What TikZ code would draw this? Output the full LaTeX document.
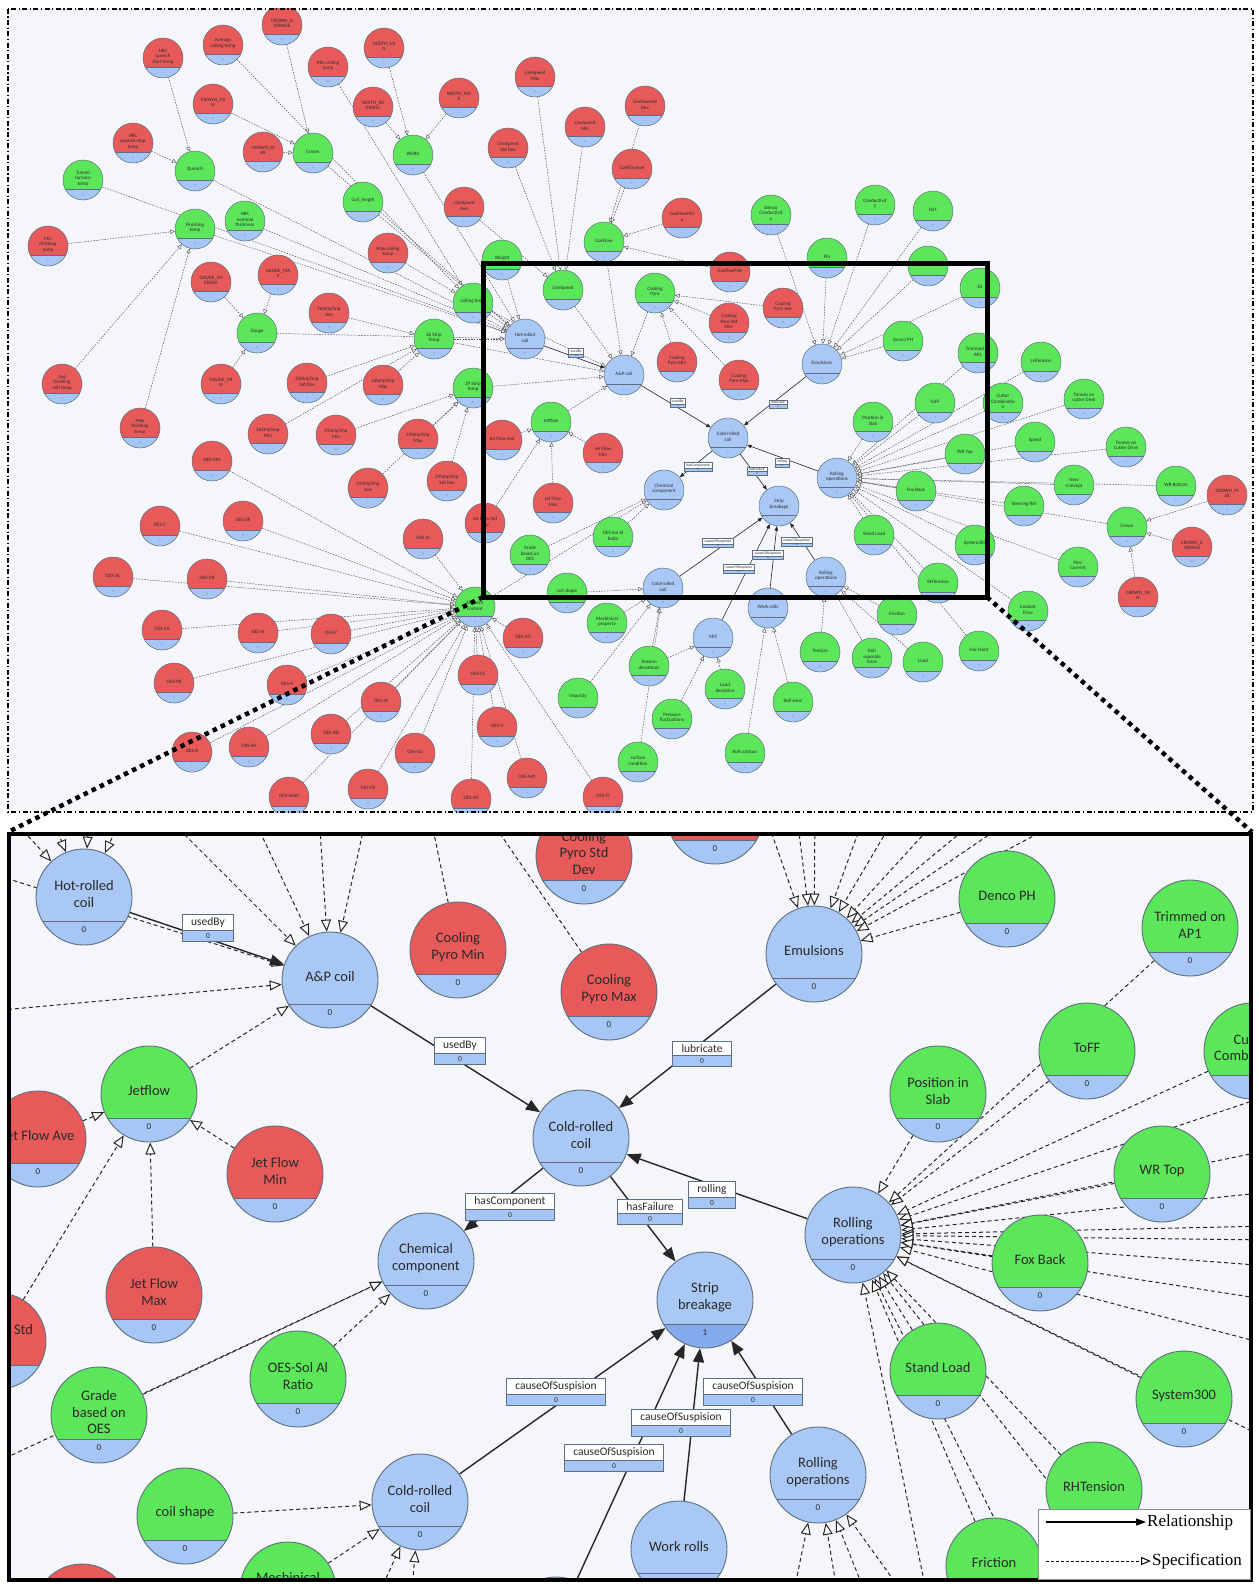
\documentclass[tikz,border=0pt]{standalone}
\usepackage{fontspec}
\setmainfont{Carlito}
\newfontfamily\legfont{Liberation Serif}
\usetikzlibrary{arrows.meta,shapes.multipart}
\pgfdeclarelayer{back}\pgfdeclarelayer{edges}\pgfdeclarelayer{front}
\pgfsetlayers{back,edges,main,front}
\definecolor{rc}{HTML}{E85A5A}
\definecolor{gc}{HTML}{5CE65A}
\definecolor{bc}{HTML}{A9C8F6}
\definecolor{bandc}{HTML}{A6C6F5}
\definecolor{bandd}{HTML}{86AAEE}
\definecolor{bordc}{HTML}{5E6E80}
\definecolor{edgec}{HTML}{505050}
\definecolor{bgc}{HTML}{F4F6FA}
\definecolor{txtc}{HTML}{2A2A2A}
\tikzset{
 sn/.style={circle,draw=bordc,line width=0.5pt,minimum size=40pt,inner sep=0pt,
  path picture={\fill[bandc] ([xshift=-22pt,yshift=-9.5pt]path picture bounding box.center) rectangle ([xshift=22pt,yshift=-22pt]path picture bounding box.center);
  \draw[bordc,line width=0.35pt] ([xshift=-22pt,yshift=-9.5pt]path picture bounding box.center) -- ([xshift=22pt,yshift=-9.5pt]path picture bounding box.center);
  \node[font=\fontsize{2.6}{3}\selectfont,text=bordc,inner sep=0pt] at ([yshift=-14.5pt]path picture bounding box.center) {0};}},
 snt/.style={font=\fontsize{5}{5.6}\selectfont,text=txtc,align=center,inner sep=0pt},
 bn/.style={circle,draw=bordc,line width=0.9pt,minimum size=96pt,inner sep=0pt,
  path picture={\fill[bandc] ([xshift=-50pt,yshift=-24pt]path picture bounding box.center) rectangle ([xshift=50pt,yshift=-50pt]path picture bounding box.center);
  \draw[bordc,line width=0.7pt] ([xshift=-50pt,yshift=-24pt]path picture bounding box.center) -- ([xshift=50pt,yshift=-24pt]path picture bounding box.center);
  \node[font=\fontsize{9}{9}\selectfont,text=txtc,inner sep=0pt] at ([yshift=-33pt]path picture bounding box.center) {0};}},
 bnstrip/.style={circle,draw=bordc,line width=0.9pt,minimum size=96pt,inner sep=0pt,
  path picture={\fill[bandd] ([xshift=-50pt,yshift=-24pt]path picture bounding box.center) rectangle ([xshift=50pt,yshift=-50pt]path picture bounding box.center);
  \draw[bordc,line width=0.7pt] ([xshift=-50pt,yshift=-24pt]path picture bounding box.center) -- ([xshift=50pt,yshift=-24pt]path picture bounding box.center);
  \node[font=\fontsize{9}{9}\selectfont,text=txtc,inner sep=0pt] at ([yshift=-33pt]path picture bounding box.center) {1};}},
 bnt/.style={font=\fontsize{14.5}{16.5}\selectfont,text=txtc,align=center,inner sep=0pt},
 tspec/.style={draw=edgec,line width=0.45pt,dash pattern=on 1.6pt off 1.2pt,-{Triangle[length=4.5pt,width=4.2pt,fill=white]}},
 trel/.style={draw=black!85,line width=0.6pt,-{Triangle[length=4.5pt,width=3.6pt]}},
 bspec/.style={draw=black!85,line width=1pt,dash pattern=on 4pt off 3pt,-{Triangle[length=12pt,width=10pt,fill=white]}},
 brelx/.style={draw=black!85,line width=1.4pt,-{Triangle[length=14pt,width=11pt]}},
 trl/.style={rectangle split,rectangle split parts=2,draw=bordc,line width=0.3pt,rectangle split part fill={white,bandc},font=\fontsize{3.8}{4.2}\selectfont,inner xsep=2pt,inner ysep=0.8pt,text=txtc},
 brl/.style={rectangle split,rectangle split parts=2,draw=bordc,line width=0.8pt,rectangle split part fill={white,bandc},font=\fontsize{11.5}{12.5}\selectfont,inner xsep=9pt,inner ysep=2.6pt,text=txtc},
}
\newcommand\SN[5]{\node[sn,fill=#4] (#1) at (#2,#3) {};\node[snt] (#1t) at ([yshift=1.5pt]#1.center) {#5};}
\newcommand\BN[5]{\node[bn,fill=#4] (#1) at (#2,#3) {};\node[bnt] (#1t) at ([yshift=3pt]#1.center) {#5};}
\newcommand\tz{{\fontsize{2.6}{2.8}\selectfont 0}}
\newcommand\bz{{\fontsize{7.5}{7.5}\selectfont 0}}
\begin{document}
\begin{tikzpicture}[x=1pt,y=-1pt]
\useasboundingbox (0,0) rectangle (1258,1584);
\begin{pgfonlayer}{back}
\fill[white] (0,0) rectangle (1258,1584);
\fill[bgc] (8,9) rectangle (1253,812);
\fill[bgc] (9,834) rectangle (1251,1580);
\end{pgfonlayer}
% ================= TOP PANEL NODES =================
\begin{scope}
\clip (8,9) rectangle (1253,812);
\SN{crownavg}{282}{25}{rc}{CROWN\_A\\VERAGE}
\SN{avgcoil}{223}{45}{rc}{Average\\colling temp}
\SN{hrcqs}{163}{58}{rc}{HRC\\quench\\start temp}
\SN{widthmin}{384}{48}{rc}{WIDTH\_MI\\N}
\SN{mincoil}{328}{67}{rc}{Min colling\\temp}
\SN{crownmin}{213}{104}{rc}{CROWN\_MI\\N}
\SN{widthavg}{373}{107}{rc}{WIDTH\_AV\\ERAGE}
\SN{hrcqst}{133}{143}{rc}{HRC\\quench stop\\temp}
\SN{crownmax}{263}{152}{rc}{CROWN\_M\\AX}
\SN{crown}{313}{153}{gc}{Crown}
\SN{width}{413}{155}{gc}{Width}
\SN{quench}{195}{171}{gc}{Quench}
\SN{tunnel}{83}{180}{gc}{Tunnel\\furnace\\temp}
\SN{coillen}{363}{202}{gc}{Coil\_length}
\SN{fintemp}{195}{229}{gc}{Finishing\\temp}
\SN{hrcnom}{245}{221}{gc}{HRC\\nominal\\thickness}
\SN{minfin}{48}{246}{rc}{Min\\finishing\\temp}
\SN{maxcoil}{388}{253}{rc}{Max colling\\temp}
\SN{widthmax}{459}{98}{rc}{WIDTH\_MA\\X}
\SN{lsmax}{535}{77}{rc}{LineSpeed\\Max}
\SN{lsmin}{585}{127}{rc}{LineSpeed\\Min}
\SN{gfstd}{645}{106}{rc}{GasFlowStd\\Dev}
\SN{lsstd}{508}{148}{rc}{LineSpeed\\Std Dev}
\SN{gfave}{632}{169}{rc}{GasFlowAve}
\SN{lsave}{464}{207}{rc}{LineSpeed\\Ave}
\SN{gfmax}{682}{218}{rc}{GasFlowMa\\x}
\SN{gasflow}{604}{242}{gc}{GasFlow}
\SN{dencocond}{771}{215}{gc}{Denco\\Conductivit\\y}
\SN{pin}{827}{258}{gc}{Pin}
\SN{weight}{502}{260}{gc}{Weight}
\SN{cond}{875}{205}{gc}{Conductivit\\y}
\SN{dirt}{933}{211}{gc}{Dirt}
\SN{chloride}{928}{266}{gc}{Chloride}
\SN{gfmin}{730}{272}{rc}{GasFlowMin}
\SN{cpyro}{655}{293}{gc}{Cooling\\Pyro}
\SN{cpave}{783}{308}{rc}{Cooling\\Pyro Ave}
\SN{cpstd}{729}{323}{rc}{Cooling\\Pyro Std\\Dev}
\SN{cpmin}{677}{362}{rc}{Cooling\\Pyro Min}
\SN{cpmax}{739}{380}{rc}{Cooling\\Pyro Max}
\SN{emul}{822}{364}{bc}{Emulsions}
\SN{dencoph}{903}{341}{gc}{Denco PH}
\SN{es}{980}{288}{gc}{ES}
\SN{trimmed}{978}{353}{gc}{Trimmed on\\AP1}
\SN{colltemp}{473}{303}{gc}{colling temp}
\SN{linespeed}{563}{290}{gc}{LineSpeed}
\SN{hrc}{525}{339}{bc}{Hot-rolled\\coil}
\SN{zsix}{434}{339}{gc}{Z6 Strip\\Temp}
\SN{apcoil}{624}{375}{bc}{A\&P coil}
\SN{znine}{473}{388}{gc}{Z9 Strip\\Temp}
\SN{jetflow}{551}{422}{gc}{Jetflow}
\SN{jfave}{502}{440}{rc}{Jet Flow Ave}
\SN{jfmin}{603}{453}{rc}{Jet Flow\\Min}
\SN{crc}{728}{438}{bc}{Cold-rolled\\coil}
\SN{z9std}{447}{481}{rc}{Z9StripTmp\\Std Dev}
\SN{jfmax}{553}{503}{rc}{Jet Flow\\Max}
\SN{chem}{664}{490}{bc}{Chemical\\component}
\SN{strip}{779}{506}{bc}{Strip\\breakage}
\SN{rollop}{837}{478}{bc}{Rolling\\operations}
\SN{jfstd}{485}{523}{rc}{Jet Flow Std\\Dev}
\SN{oessol}{613}{537}{gc}{OES-Sol Al\\Ratio}
\SN{gaugeavg}{211}{282}{rc}{GAUGE\_AV\\ERAGE}
\SN{gaugemax}{278}{275}{rc}{GAUGE\_MA\\X}
\SN{z6ave}{329}{313}{rc}{Z6StripTmp\\Ave}
\SN{gauge}{257}{333}{gc}{Gauge}
\SN{avgfin}{62}{384}{rc}{Avg\\finishing\\mill temp}
\SN{gaugemin}{221}{384}{rc}{GAUGE\_MI\\N}
\SN{z6std}{307}{383}{rc}{Z6StripTmp\\Std Dev}
\SN{z6max}{383}{385}{rc}{Z6StripTmp\\Max}
\SN{maxfin}{140}{428}{rc}{Max\\finishing\\temp}
\SN{z6min}{268}{434}{rc}{Z6StripTmp\\Min}
\SN{z9min}{336}{435}{rc}{Z9StripTmp\\Min}
\SN{z9max}{418}{439}{rc}{Z9StripTmp\\Max}
\SN{oesmn}{212}{461}{rc}{OES-MN}
\SN{z9ave}{368}{488}{rc}{Z9StripTmp\\Ave}
\SN{oesc}{160}{526}{rc}{OES-C}
\SN{oeszr}{243}{521}{rc}{OES-ZR}
\SN{oessi}{423}{539}{rc}{OES-SI}
\SN{lhtension}{1041}{362}{gc}{LHTension}
\SN{toff}{935}{403}{gc}{ToFF}
\SN{cutter}{1003}{403}{gc}{Cutter\\Combinatio\\n}
\SN{tdesk}{1084}{399}{gc}{Tonnes on\\cutter Desk}
\SN{posslab}{873}{422}{gc}{Position in\\Slab}
\SN{speed}{1035}{442}{gc}{Speed}
\SN{tdrive}{1126}{447}{gc}{Tonnes on\\Cutter Drive}
\SN{wrtop}{965}{454}{gc}{WR Top}
\SN{foxback}{916}{491}{gc}{Fox Back}
\SN{newconc}{1074}{485}{gc}{New\\Concept}
\SN{wrbot}{1176}{486}{gc}{WR Bottom}
\SN{crownmaxb}{1227}{495}{rc}{CROWN\_M\\AX}
\SN{steer}{1024}{506}{gc}{Steering Ref}
\SN{crownb}{1127}{527}{gc}{Crown}
\SN{standload}{874}{535}{gc}{Stand Load}
\SN{sysb}{975}{545}{gc}{System300}
\SN{crownavgb}{1192}{547}{rc}{CROWN\_A\\VERAGE}
\SN{perc}{1078}{567}{gc}{Perc\\Current}
\SN{rhtension}{938}{583}{gc}{RHTension}
\SN{crownminb}{1138}{597}{rc}{CROWN\_MI\\N}
\SN{coolant}{1028}{611}{gc}{Coolant\\Flow}
\SN{friction}{897}{615}{gc}{Friction}
\SN{foxfront}{979}{651}{gc}{Fox Front}
\SN{rollsep}{872}{658}{gc}{Roll\\seperate\\force}
\SN{load}{923}{662}{gc}{Load}
\SN{rollopb}{826}{577}{bc}{Rolling\\operations}
\SN{grade}{530}{555}{gc}{Grade\\based on\\OES}
\SN{coilshape}{567}{593}{gc}{coil shape}
\SN{crcb}{663}{588}{bc}{Cold-rolled\\coil}
\SN{element}{475}{607}{gc}{Element\\content}
\SN{mech}{607}{623}{gc}{Mechinical\\property}
\SN{workrolls}{768}{608}{bc}{Work rolls}
\SN{oesco}{523}{638}{rc}{OES-CO}
\SN{mill}{713}{638}{bc}{Mill}
\SN{tension}{820}{652}{gc}{Tension}
\SN{tensdev}{649}{666}{gc}{Tension\\deviations}
\SN{oesce}{478}{675}{rc}{OES-CE}
\SN{loaddev}{725}{689}{gc}{Load\\deviation}
\SN{impurity}{578}{698}{gc}{Impurity}
\SN{rollwear}{793}{702}{gc}{Roll wear}
\SN{pressure}{672}{719}{gc}{Pressure\\fluctuations}
\SN{oess}{497}{727}{rc}{OES-S}
\SN{rollcont}{745}{753}{gc}{Roll contour}
\SN{oescu}{415}{753}{rc}{OES-CU}
\SN{surface}{638}{762}{gc}{surface\\condition}
\SN{oesmo}{527}{778}{rc}{OES-MO}
\SN{oesas}{471}{799}{rc}{OES-AS}
\SN{oesti}{603}{797}{rc}{OES-TI}
\SN{oesal}{113}{577}{rc}{OES-AL}
\SN{oessb}{207}{579}{rc}{OES-SB}
\SN{oesca}{162}{630}{rc}{OES-CA}
\SN{oesn}{258}{633}{rc}{OES-N}
\SN{oesp}{331}{634}{rc}{OES-P}
\SN{oespb}{174}{683}{rc}{OES-PB}
\SN{oesv}{287}{685}{rc}{OES-V}
\SN{oesni}{381}{702}{rc}{OES-NI}
\SN{oesnb}{331}{734}{rc}{OES-NB}
\SN{oesb}{192}{752}{rc}{OES-B}
\SN{oessn}{249}{747}{rc}{OES-SN}
\SN{oescr}{368}{789}{rc}{OES-CR}
\SN{oessaal}{289}{797}{rc}{OES-SolAl}
% relationship labels (top)
\node[trl] (tu1) at (576,353) {usedBy\nodepart{two}\tz};
\node[trl] (tu2) at (678,403) {usedBy\nodepart{two}\tz};
\node[trl] (tlu) at (778,404) {lubricate\nodepart{two}\tz};
\node[trl] (thc) at (698,467) {hasComponent\nodepart{two}\tz};
\node[trl] (thf) at (757,471) {hasFailure\nodepart{two}\tz};
\node[trl] (tro) at (782,463) {rolling\nodepart{two}\tz};
\node[trl] (tc1) at (718,543) {causeOfSuspision\nodepart{two}\tz};
\node[trl] (tc2) at (797,542) {causeOfSuspision\nodepart{two}\tz};
\node[trl] (tc3) at (768,555) {causeOfSuspision\nodepart{two}\tz};
\node[trl] (tc4) at (739,569) {causeOfSuspision\nodepart{two}\tz};
\end{scope}
% ================= TOP PANEL EDGES =================
\begin{pgfonlayer}{edges}
\begin{scope}
\clip (8,9) rectangle (1253,812);
\foreach \a/\b in {crownavg/crown,crownmin/crown,crownmax/crown,widthmin/width,widthavg/width,widthmax/width,
 hrcqs/quench,hrcqst/quench,avgcoil/colltemp,mincoil/colltemp,maxcoil/colltemp,minfin/fintemp,avgfin/fintemp,maxfin/fintemp,
 gaugeavg/gauge,gaugemax/gauge,gaugemin/gauge,z6ave/zsix,z6std/zsix,z6max/zsix,z6min/zsix,z9min/znine,z9max/znine,z9std/znine,z9ave/znine,
 lsmax/linespeed,lsmin/linespeed,lsstd/linespeed,lsave/linespeed,gfstd/gasflow,gfave/gasflow,gfmax/gasflow,gfmin/gasflow,
 cpave/cpyro,cpstd/cpyro,cpmin/cpyro,cpmax/cpyro,jfave/jetflow,jfmin/jetflow,jfmax/jetflow,jfstd/jetflow,
 crown/hrc,width/hrc,coillen/hrc,quench/hrc,fintemp/hrc,hrcnom/hrc,tunnel/hrc,gauge/hrc,zsix/hrc,weight/hrc,colltemp/hrc,
 linespeed/apcoil,gasflow/apcoil,cpyro/apcoil,znine/apcoil,jetflow/apcoil,colltemp/apcoil,zsix/apcoil,
 dencocond/emul,pin/emul,cond/emul,dirt/emul,chloride/emul,es/emul,dencoph/emul,
 trimmed/rollop,lhtension/rollop,toff/rollop,cutter/rollop,tdesk/rollop,posslab/rollop,speed/rollop,tdrive/rollop,wrtop/rollop,
 foxback/rollop,newconc/rollop,wrbot/rollop,steer/rollop,crownb/rollop,standload/rollop,sysb/rollop,perc/rollop,rhtension/rollop,
 coolant/rollop,foxfront/rollop,crownmaxb/crownb,crownavgb/crownb,crownminb/crownb,grade/chem,oessol/chem,element/chem,
 oesmn/element,oesc/element,oeszr/element,oessi/element,oesco/element,oesce/element,oess/element,oescu/element,oesmo/element,
 oesas/element,oesti/element,oesal/element,oessb/element,oesca/element,oesn/element,oesp/element,oespb/element,oesv/element,
 oesni/element,oesnb/element,oesb/element,oessn/element,oescr/element,oessaal/element,
 coilshape/crcb,mech/crcb,impurity/crcb,tensdev/crcb,surface/crcb,tensdev/mill,pressure/mill,loaddev/mill,
 rollcont/workrolls,rollwear/workrolls,tension/rollopb,friction/rollopb,rollsep/rollopb,load/rollopb}
 {\draw[tspec] (\a) -- (\b);}
\foreach \a/\b in {hrc/apcoil,apcoil/crc,emul/crc,crc/chem,crc/strip,rollop/crc,crcb/strip,mill/strip,workrolls/strip,rollopb/strip}
 {\draw[trel] (\a) -- (\b);}
\end{scope}
\end{pgfonlayer}
% ================= BOTTOM PANEL NODES =================
\begin{scope}
\clip (9,834) rectangle (1251,1580);
\BN{bhrc}{84}{897}{bc}{Hot-rolled\\coil}
\BN{bap}{330}{980}{bc}{A\&P coil}
\BN{bcpstd}{584}{856}{rc}{Cooling\\Pyro Std\\Dev}
\BN{bredtop}{715}{816}{rc}{Cooling\\Pyro Ave}
\BN{bcpmin}{458}{950}{rc}{Cooling\\Pyro Min}
\BN{bcpmax}{609}{992}{rc}{Cooling\\Pyro Max}
\BN{bemul}{814}{954}{bc}{Emulsions}
\BN{bdencoph}{1007}{899}{gc}{Denco PH}
\BN{btrim}{1190}{928}{gc}{Trimmed on\\AP1}
\BN{bcutter}{1252}{1051}{gc}{Cutter\\Combination}
\BN{btoff}{1087}{1051}{gc}{ToFF}
\BN{bpos}{938}{1094}{gc}{Position in\\Slab}
\BN{bjet}{149}{1094}{gc}{Jetflow}
\BN{bjfave}{38}{1139}{rc}{Jet Flow Ave}
\BN{bjfmin}{275}{1174}{rc}{Jet Flow\\Min}
\BN{bcrc}{581}{1138}{bc}{Cold-rolled\\coil}
\BN{bwrtop}{1162}{1174}{gc}{WR Top}
\BN{brollop}{853}{1235}{bc}{Rolling\\operations}
\BN{bfox}{1040}{1263}{gc}{Fox Back}
\BN{bchem}{426}{1261}{bc}{Chemical\\component}
\node[bnstrip,fill=bc] (bstrip) at (705,1300) {};
\node[bnt] (bstript) at ([yshift=3pt]bstrip.center) {Strip\\breakage};
\BN{bjfmax}{154}{1295}{rc}{Jet Flow\\Max}
\BN{bjfstd}{-2}{1341}{rc}{Jet Flow Std\\Dev}
\BN{bgrade}{99}{1415}{gc}{Grade\\based on\\OES}
\BN{boessol}{298}{1379}{gc}{OES-Sol Al\\Ratio}
\BN{bstand}{938}{1371}{gc}{Stand Load}
\BN{bsys}{1184}{1399}{gc}{System300}
\BN{brollopb}{818}{1475}{bc}{Rolling\\operations}
\BN{bcrcb}{420}{1502}{bc}{Cold-rolled\\coil}
\BN{bcoilshape}{185}{1516}{gc}{coil shape}
\BN{brht}{1094}{1490}{gc}{RHTension}
\BN{bwork}{679}{1549}{bc}{Work rolls}
\BN{bmech}{288}{1590}{gc}{Mechinical\\property}
\BN{bredbl}{82}{1612}{rc}{OES-CO}
\BN{bmill}{556}{1625}{bc}{Mill}
\BN{bfriction}{994}{1566}{gc}{Friction}
% relationship labels (bottom)
\node[brl] (bu1) at (208,928) {usedBy\nodepart{two}\bz};
\node[brl] (bu2) at (460,1051) {usedBy\nodepart{two}\bz};
\node[brl] (blu) at (702,1054) {lubricate\nodepart{two}\bz};
\node[brl] (bhc) at (510,1207) {hasComponent\nodepart{two}\bz};
\node[brl] (bhf) at (650,1212) {hasFailure\nodepart{two}\bz};
\node[brl] (bro) at (712,1195) {rolling\nodepart{two}\bz};
\node[brl] (bc1) at (556,1392) {causeOfSuspision\nodepart{two}\bz};
\node[brl] (bc2) at (753,1392) {causeOfSuspision\nodepart{two}\bz};
\node[brl] (bc3) at (681,1423) {causeOfSuspision\nodepart{two}\bz};
\node[brl] (bc4) at (614,1458) {causeOfSuspision\nodepart{two}\bz};
\end{scope}
% ================= BOTTOM PANEL EDGES =================
\begin{pgfonlayer}{edges}
\begin{scope}
\clip (9,834) rectangle (1251,1580);
\foreach \i/\x/\y/\t in {1/-5/800/bhrc,2/45/800/bhrc,3/90/800/bhrc,4/130/800/bhrc,
 5/-20/1012/bap,6/-20/870/bap,7/150/800/bap,8/245/800/bap,9/318/800/bap,10/370/800/bap,
 11/760/800/bemul,12/795/800/bemul,13/815/800/bemul,14/870/800/bemul,15/905/800/bemul,16/955/800/bemul,17/1000/800/bemul,18/1040/800/bemul,19/1100/800/bemul,
 20/-20/1470/bchem,21/372/1610/bcrcb,22/410/1610/bcrcb,
 23/1270/1095/brollop,24/1270/1150/brollop,25/1270/1192/brollop,26/1270/1226/brollop,27/1270/1240/brollop,28/1270/1266/brollop,
 29/1270/1300/brollop,30/1270/1345/brollop,31/1270/1440/brollop,32/1150/1610/brollop,33/1040/1610/brollop,34/930/1610/brollop,
 35/790/1610/brollopb,36/840/1610/brollopb,37/872/1610/brollopb,38/915/1610/brollopb}
 {\coordinate (f\i) at (\x,\y); \draw[bspec] (f\i) -- (\t);}
\coordinate (g1) at (425,790); \coordinate (g2) at (470,790); \coordinate (g3) at (520,790);
\draw[bspec] (bcpmin) -- (g1);
\draw[bspec] (bcpmax) -- (g2);
\draw[bspec] (bcpstd) -- (g3);
\foreach \a/\b in {bjet/bap,bdencoph/bemul,bjfave/bjet,bjfmin/bjet,bjfmax/bjet,bjfstd/bjet,bgrade/bchem,boessol/bchem,
 bcoilshape/bcrcb,bmech/bcrcb,bpos/brollop,btoff/brollop,bcutter/brollop,bwrtop/brollop,bfox/brollop,bstand/brollop,
 bsys/brollop,brht/brollop,bfriction/brollop,btrim/brollop}
 {\draw[bspec] (\a) -- (\b);}
\foreach \a/\b in {bhrc/bap,bap/bcrc,bemul/bcrc,bcrc/bchem,bcrc/bstrip,brollop/bcrc,bcrcb/bstrip,bmill/bstrip,bwork/bstrip,brollopb/bstrip}
 {\draw[brelx] (\a) -- (\b);}
\end{scope}
\end{pgfonlayer}
% ================= FRAMES, INSET, LEGEND =================
\begin{pgfonlayer}{front}
\draw[line width=1.3pt,dash pattern=on 5pt off 2.5pt on 1.2pt off 2.5pt] (8,9) rectangle (1253,812);
\draw[line width=5pt] (483,263) rectangle (987,597);
\coordinate (ibl) at (483,597); \coordinate (ibr) at (987,597);
\coordinate (pbl) at (8,832); \coordinate (pbr) at (1252,832);
\draw[line width=4.5pt,dash pattern=on 4.5pt off 4.5pt] (ibl) -- (pbl);
\draw[line width=4.5pt,dash pattern=on 4.5pt off 4.5pt] (ibr) -- (pbr);
\draw[line width=4pt] (9,834) rectangle (1251,1580);
\node[draw=black!45,fill=white,line width=0.8pt,minimum width=212pt,minimum height=70pt,anchor=north west,inner sep=0pt] (legbox) at (1038,1509) {};
\node[anchor=west,inner sep=1pt,font=\legfont\fontsize{17}{19}\selectfont] (legr) at (1146,1522) {Relationship};
\node[anchor=west,inner sep=1pt,font=\legfont\fontsize{17}{19}\selectfont] (legs) at (1151,1561) {Specification};
\coordinate (lr0) at (1046,1522); \coordinate (ls0) at (1046,1561);
\draw[line width=1.3pt,-{Triangle[length=10pt,width=7pt]}] (lr0) -- (legr.west);
\draw[line width=1pt,dash pattern=on 3pt off 2pt,-{Triangle[length=10pt,width=8pt,fill=white]}] (ls0) -- (legs.west);
\end{pgfonlayer}
\end{tikzpicture}
\end{document}
